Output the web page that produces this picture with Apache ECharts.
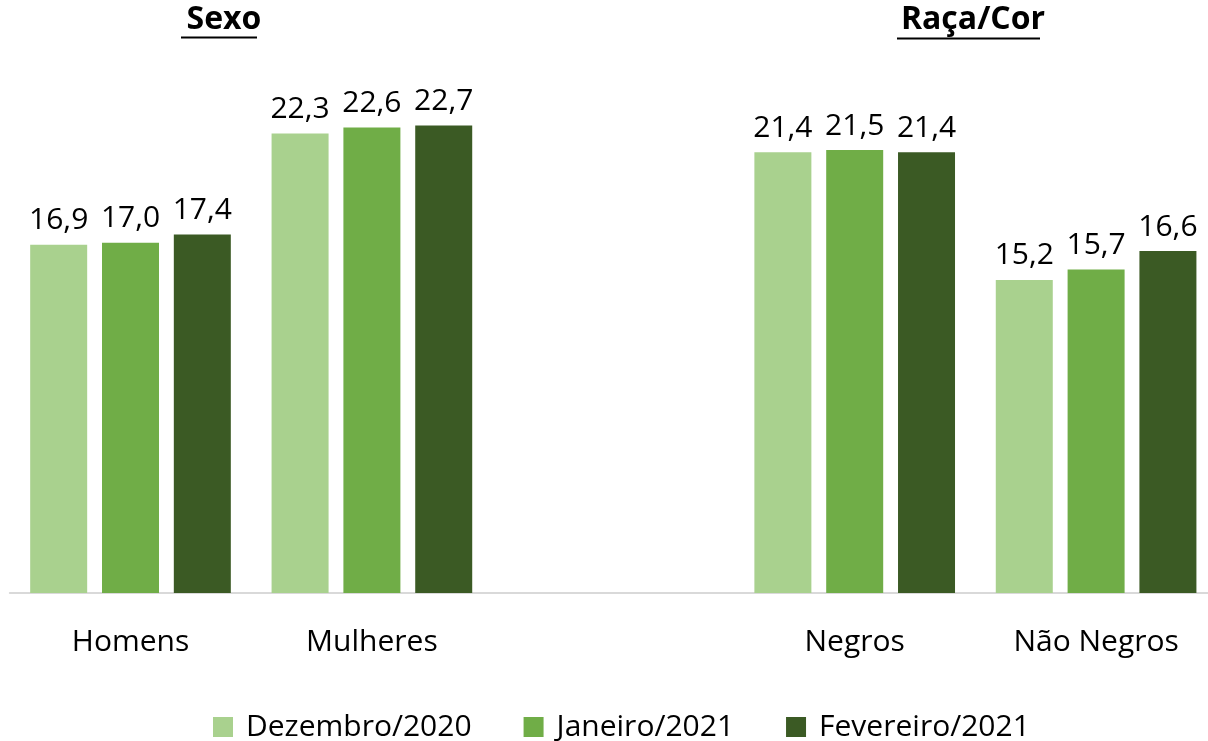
<!DOCTYPE html>
<html><head><meta charset="utf-8">
<script src="https://cdn.jsdelivr.net/npm/echarts@6/dist/echarts.min.js"></script>
<style>html,body{margin:0;padding:0;background:#fff}#c{width:1208px;height:741px}</style>
</head><body><div id="c"></div>
<script>
const categories = ['Homens', 'Mulheres', '', 'Negros', 'Não Negros'];
const seriesNames = ['Dezembro/2020', 'Janeiro/2021', 'Fevereiro/2021'];
const dez2020 = [16.9, 22.3, '-', 21.4, 15.2];
const jan2021 = [17.0, 22.6, '-', 21.5, 15.7];
const fev2021 = [17.4, 22.7, '-', 21.4, 16.6];
const groupTitles = ['Sexo', 'Raça/Cor'];
const colors = ['#a9d18e', '#70ad47', '#3b5a24'];

const font = '"Open Sans", "Noto Sans", sans-serif';
const chart = echarts.init(document.getElementById('c'));
const values = [dez2020, jan2021, fev2021];
chart.setOption({
  animation: false,
  title: [
    {text: groupTitles[0], left: 219, top: -1, padding: 5, textAlign: 'center',
     textStyle: {fontFamily: font, fontSize: 32, fontWeight: 'bold', color: '#000'}},
    {text: groupTitles[1], left: 968, top: -1, padding: 5, textAlign: 'center',
     textStyle: {fontFamily: font, fontSize: 32, fontWeight: 'bold', color: '#000'}}
  ],
  graphic: [
    {type: 'line', shape: {x1: 181, y1: 37.5, x2: 257, y2: 37.5}, style: {stroke: '#000', lineWidth: 2}},
    {type: 'line', shape: {x1: 897, y1: 38.5, x2: 1040, y2: 38.5}, style: {stroke: '#000', lineWidth: 2}}
  ],
  legend: {
    data: seriesNames, left: 208, top: 707, itemWidth: 20, itemHeight: 20, itemGap: 52,
    icon: 'rect',
    textStyle: {fontFamily: font, fontSize: 30, color: '#000', padding: [0, 0, 0, 8]}
  },
  grid: {left: 9.8, width: 1207, top: 78, bottom: 148, containLabel: false, outerBoundsMode: 'none'},
  xAxis: {
    type: 'category', data: categories,
    axisLine: {lineStyle: {color: '#d9d9d9', width: 2}},
    axisTick: {show: false},
    axisLabel: {fontFamily: font, fontSize: 30, color: '#000', margin: 34}
  },
  yAxis: {type: 'value', min: 0, max: 25, show: false, splitLine: {show: false}},
  series: seriesNames.map((n, i) => ({
    name: n, type: 'bar', data: values[i], barWidth: 57, barGap: '26%',
    itemStyle: {color: colors[i]},
    label: {show: true, position: 'top', distance: 9, fontFamily: font, fontSize: 30, color: '#000',
      formatter: p => p.value.toFixed(1).replace('.', ',')}
  }))
});
</script></body></html>
